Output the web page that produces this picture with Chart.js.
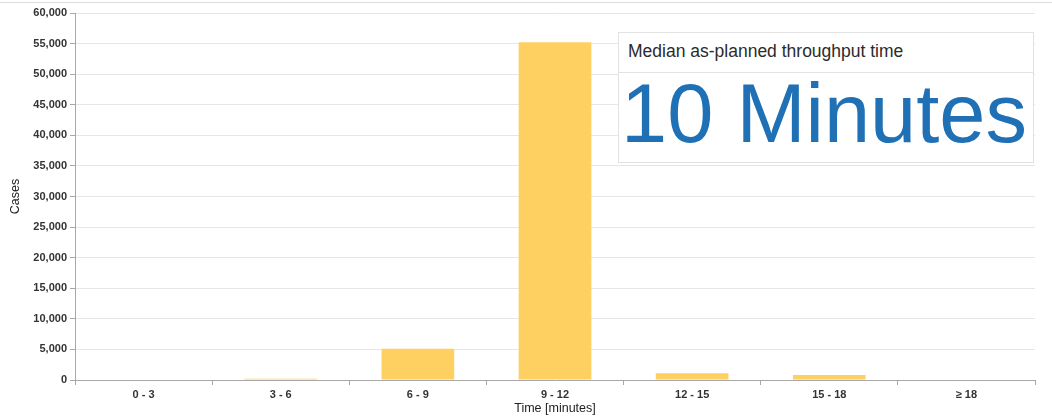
<!DOCTYPE html>
<html>
<head>
<meta charset="utf-8">
<script src="https://cdn.jsdelivr.net/npm/chart.js@4/dist/chart.umd.min.js"></script>
<style>
  html, body { margin: 0; padding: 0; background: #fff; }
  #wrap { position: relative; width: 1052px; height: 418px; overflow: hidden; }
  #topline { position: absolute; left: 0; top: 2px; width: 1052px; height: 0; border-top: 1px solid #dcdcdc; }
  #chart { position: absolute; left: 0; top: 0; }
  #kpi {
    position: absolute; left: 618px; top: 32px; width: 416px; height: 131px;
    background: #fff; border: 1px solid #e2e2e2; box-sizing: border-box;
    font-family: "Liberation Sans", Arial, sans-serif;
  }
  #kpi .head {
    height: 40px; border-bottom: 1px solid #e2e2e2; box-sizing: border-box;
    padding: 8px 0 0 9px; font-size: 17.5px; line-height: 20px; color: #2b2b2b;
  }
  #kpi .value {
    position: absolute; left: 2px; top: 39px; font-size: 83px; line-height: 83px;
    color: #1f70b5; white-space: nowrap;
  }
</style>
</head>
<body>
<div id="wrap">
  <div id="topline"></div>
  <canvas id="chart" width="1052" height="418"></canvas>
  <div id="kpi">
    <div class="head">Median as-planned throughput time</div>
    <div class="value">10 Minutes</div>
  </div>
</div>
<script>
// Throughput time buckets and the number of cases in each
const categories = ["0 - 3", "3 - 6", "6 - 9", "9 - 12", "12 - 15", "15 - 18", "\u2265 18"];
const cases = [0, 200, 5100, 55200, 1100, 800, 0];
const yTicks = [0, 5000, 10000, 15000, 20000, 25000, 30000, 35000, 40000, 45000, 50000, 55000, 60000];

const tickFont = { family: "'Liberation Sans', Arial, sans-serif", size: 11, weight: "bold" };
const titleFont = { family: "'Liberation Sans', Arial, sans-serif", size: 12.5 };

new Chart(document.getElementById("chart"), {
  type: "bar",
  data: {
    labels: categories,
    datasets: [{
      label: "Cases",
      data: cases,
      backgroundColor: "#fed062",
      borderWidth: 0,
      barPercentage: 0.53,
      categoryPercentage: 1.0
    }]
  },
  options: {
    responsive: false,
    animation: false,
    layout: { padding: { left: 0, right: 17, top: 13, bottom: 0 } },
    plugins: { legend: { display: false }, tooltip: { enabled: false } },
    scales: {
      x: {
        offset: true,
        border: { display: true, color: "#a8a8a8", width: 1 },
        grid: { offset: true, drawOnChartArea: false, drawTicks: true, tickLength: 5, color: "#a8a8a8" },
        ticks: { color: "#333", font: tickFont, padding: 3 },
        title: { display: true, text: "Time [minutes]", color: "#222", font: titleFont, padding: { top: 1, bottom: 2 } },
        afterFit(scale) { scale.height = 38; }
      },
      y: {
        min: 0,
        max: 60000,
        afterBuildTicks(scale) { scale.ticks = yTicks.map(v => ({ value: v })); },
        border: { display: true, color: "#a8a8a8", width: 1 },
        grid: { color: "#e6e6e6", tickColor: "#a8a8a8", tickLength: 5, drawTicks: true },
        ticks: {
          color: "#333", font: tickFont, padding: 3,
          callback: v => v.toLocaleString("en-US")
        },
        title: { display: true, text: "Cases", color: "#222", font: titleFont, padding: { top: 8, bottom: 8 } },
        afterFit(scale) { scale.width = 75; }
      }
    }
  }
});
</script>
</body>
</html>
